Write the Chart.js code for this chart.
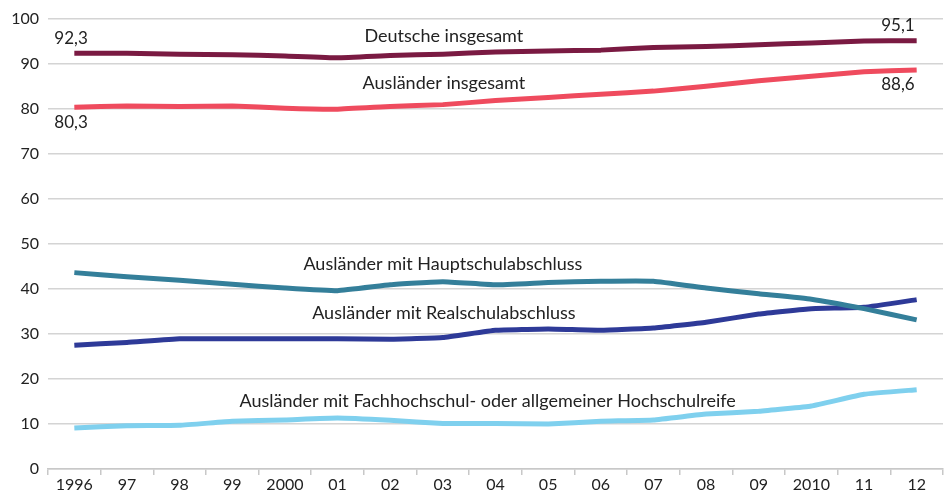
<!DOCTYPE html>
<html><head><meta charset="utf-8">
<script src="https://cdn.jsdelivr.net/npm/chart.js@4"></script>
<style>html,body{margin:0;padding:0;background:#fff}#wrap{width:944px;height:497px}</style>
</head><body><div id="wrap"><canvas id="c" width="944" height="497"></canvas></div>
<script>
const categories = ['1996','97','98','99','2000','01','02','03','04','05','06','07','08','09','2010','11','12'];
const deutscheInsgesamt = [92.3,92.3,92.1,92.0,91.7,91.3,91.8,92.1,92.6,92.8,93.0,93.6,93.8,94.2,94.6,95.0,95.1];
const auslaenderInsgesamt = [80.3,80.6,80.5,80.6,80.1,79.9,80.5,80.9,81.8,82.5,83.2,83.9,85.0,86.2,87.2,88.2,88.6];
const hauptschule = [43.6,42.7,41.9,41.0,40.2,39.6,40.9,41.6,40.9,41.4,41.7,41.7,40.2,38.9,37.7,35.6,33.1];
const realschule = [27.5,28.1,28.9,28.9,28.9,28.9,28.8,29.2,30.8,31.1,30.8,31.3,32.6,34.4,35.6,35.9,37.6];
const hochschulreife = [9.1,9.6,9.7,10.6,10.9,11.3,10.8,10.1,10.1,10.0,10.6,10.9,12.2,12.8,14.0,16.6,17.6];
const yTicks = [0,10,20,30,40,50,60,70,80,90,100];
const seriesLabels = ['Deutsche insgesamt','Ausländer insgesamt','Ausländer mit Hauptschulabschluss','Ausländer mit Realschulabschluss','Ausländer mit Fachhochschul- oder allgemeiner Hochschulreife'];
const endLabels = ['92,3','95,1','80,3','88,6'];

const FONT = 'Lato, "DejaVu Sans", sans-serif';
const colors = ['#7a1a42','#ef4b5e','#347f9a','#2e3a98','#7fd0ee'];
const dataSets = [deutscheInsgesamt, auslaenderInsgesamt, hauptschule, realschule, hochschulreife];

const labelPlugin = {
  id: 'inlineLabels',
  afterDatasetsDraw(chart) {
    const ctx = chart.ctx, x = chart.scales.x, y = chart.scales.y;
    ctx.save();
    ctx.font = '18px ' + FONT;
    ctx.fillStyle = '#222';
    ctx.textBaseline = 'middle';
    ctx.textAlign = 'center';
    const mid = x.getPixelForValue(7);
    ctx.fillText(seriesLabels[0], mid + 1, y.getPixelForValue(96.2));
    ctx.fillText(seriesLabels[1], mid + 1, y.getPixelForValue(85.6));
    ctx.fillText(seriesLabels[2], mid, y.getPixelForValue(45.4));
    ctx.fillText(seriesLabels[3], mid + 1, y.getPixelForValue(34.6));
    ctx.fillText(seriesLabels[4], x.getPixelForValue(7.85), y.getPixelForValue(15.0));
    const x0 = x.getPixelForValue(0), x1 = x.getPixelForValue(16);
    ctx.font = '17px ' + FONT;
    ctx.textAlign = 'left';
    ctx.fillText(endLabels[0], x0 - 20, y.getPixelForValue(deutscheInsgesamt[0]) - 15);
    ctx.fillText(endLabels[2], x0 - 20, y.getPixelForValue(auslaenderInsgesamt[0]) + 15);
    ctx.textAlign = 'right';
    ctx.fillText(endLabels[1], x1 - 2, y.getPixelForValue(deutscheInsgesamt[16]) - 15);
    ctx.fillText(endLabels[3], x1 - 2, y.getPixelForValue(auslaenderInsgesamt[16]) + 15);
    ctx.restore();
  }
};

new Chart(document.getElementById('c'), {
  type: 'line',
  data: {
    labels: categories,
    datasets: dataSets.map((d, i) => ({
      label: seriesLabels[i], data: d, borderColor: colors[i], backgroundColor: colors[i],
      borderWidth: 5, pointRadius: 0, tension: 0.1, fill: false, borderCapStyle: 'butt', borderJoinStyle: 'round'
    }))
  },
  options: {
    responsive: false, animation: false, events: [],
    layout: { padding: { top: 16, right: 1, left: 0, bottom: 0 } },
    plugins: { legend: { display: false }, tooltip: { enabled: false } },
    scales: {
      x: {
        offset: true,
        grid: { drawOnChartArea: false, drawTicks: true, tickLength: 6, offset: true, color: '#c8c8c8', lineWidth: 1.5 },
        border: { display: true, color: '#c8c8c8', width: 1.5 },
        ticks: { font: { family: FONT, size: 16 }, color: '#222', padding: 0, maxRotation: 0, autoSkip: false },
        afterFit(s) { s.height = 28; }
      },
      y: {
        min: 0, max: 100,
        afterBuildTicks(s) { s.ticks = yTicks.map(v => ({ value: v })); },
        grid: { color: '#d4d4d4', lineWidth: 1.5, drawTicks: false },
        border: { display: false },
        ticks: { font: { family: FONT, size: 16 }, color: '#222', padding: 9 },
        afterFit(s) { s.width = 48; }
      }
    }
  },
  plugins: [labelPlugin]
});
</script></body></html>
